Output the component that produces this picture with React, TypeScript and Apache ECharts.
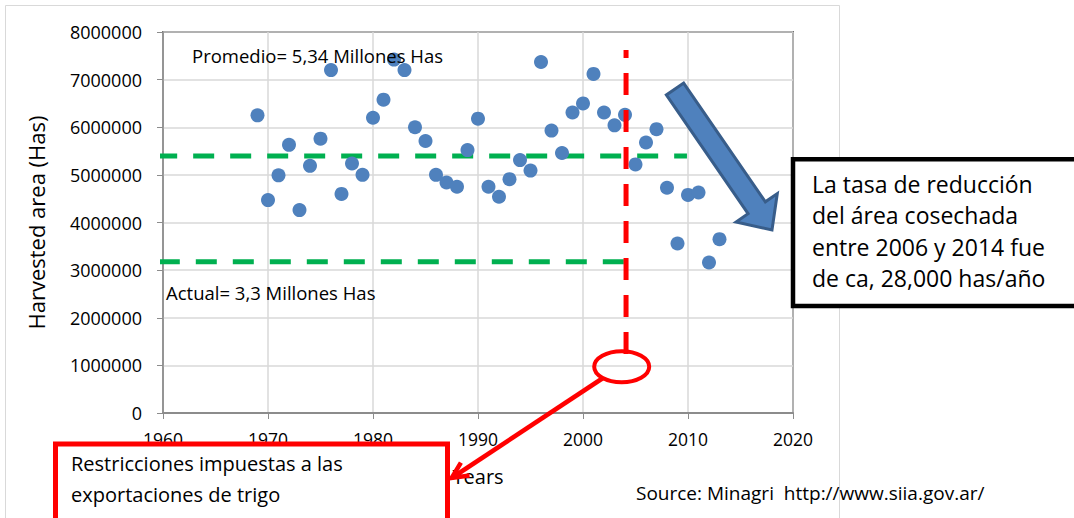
import React, { useEffect, useRef } from 'react';
import * as echarts from 'echarts';

// ---- data ----
const years = [
  1969, 1970, 1971, 1972, 1973, 1974, 1975, 1976, 1977, 1978, 1979,
  1980, 1981, 1982, 1983, 1984, 1985, 1986, 1987, 1988, 1989,
  1990, 1991, 1992, 1993, 1994, 1995, 1996, 1997, 1998, 1999,
  2000, 2001, 2002, 2003, 2004, 2005, 2006, 2007, 2008, 2009,
  2010, 2011, 2012, 2013,
];
const harvestedArea = [
  6250000, 4470000, 4990000, 5630000, 4260000, 5190000, 5760000, 7200000, 4600000, 5240000, 5000000,
  6200000, 6580000, 7420000, 7200000, 6000000, 5710000, 5000000, 4840000, 4750000, 5520000,
  6180000, 4750000, 4540000, 4910000, 5310000, 5090000, 7370000, 5930000, 5460000, 6310000,
  6500000, 7120000, 6310000, 6040000, 6260000, 5220000, 5680000, 5960000, 4730000, 3560000,
  4580000, 4630000, 3160000, 3650000,
];
const promedioX = [1959.35, 2009.9];
const promedioY = [5396000, 5396000];
const actualX = [1959.6, 2004.1];
const actualY = [3177000, 3177000];
const restrictionX = [2004.1, 2004.1];
const restrictionY = [7620000, 1180000];
const xTicks = { min: 1960, max: 2020, interval: 10 };
const yTicks = { min: 0, max: 8000000, interval: 1000000 };

const FONT = "'Open Sans', 'Noto Sans', sans-serif";

export default function App() {
  const ref = useRef<HTMLDivElement>(null);
  useEffect(() => {
    document.body.style.margin = '0';
    if (!ref.current) return;
    const chart = echarts.init(ref.current, null, { renderer: 'svg' });
    const zip = (xs: number[], ys: number[]) => xs.map((x, i) => [x, ys[i]]);

    // blue arrow geometry
    const T = [675, 89];
    const tip = [772, 230];
    const dx = tip[0] - T[0], dy = tip[1] - T[1];
    const L = Math.hypot(dx, dy);
    const d = [dx / L, dy / L];
    const p = [d[1], -d[0]];
    const h = 27, w = 10.5, W = 25;
    const B = [tip[0] - h * d[0], tip[1] - h * d[1]];
    const arrowPts = [
      [T[0] + w * p[0], T[1] + w * p[1]],
      [B[0] + w * p[0], B[1] + w * p[1]],
      [B[0] + W * p[0], B[1] + W * p[1]],
      tip,
      [B[0] - W * p[0], B[1] - W * p[1]],
      [B[0] - w * p[0], B[1] - w * p[1]],
      [T[0] - w * p[0], T[1] - w * p[1]],
    ];

    // red arrow
    const rs = [603, 378];
    const rt = [451.7, 478];
    const rl = Math.hypot(rt[0] - rs[0], rt[1] - rs[1]);
    const rd = [(rt[0] - rs[0]) / rl, (rt[1] - rs[1]) / rl];
    const wing = (ang: number) => {
      const c = Math.cos(ang), s = Math.sin(ang);
      const bx = -rd[0], by = -rd[1];
      return [rt[0] + 18 * (bx * c - by * s), rt[1] + 18 * (bx * s + by * c)];
    };

    chart.setOption({
      animation: false,
      textStyle: { fontFamily: FONT },
      grid: {
        left: 163, top: 32, width: 630, height: 381,
        show: true, borderColor: '#000', borderWidth: 1.5, backgroundColor: 'transparent',
      },
      xAxis: {
        type: 'value', ...xTicks,
        name: 'Years', nameLocation: 'middle', nameGap: 53,
        nameTextStyle: { fontSize: 20, color: '#000', fontFamily: FONT },
        axisLine: { show: true, onZero: false, lineStyle: { color: '#8c8c8c', width: 2 } },
        axisTick: { show: true, length: 6, lineStyle: { color: '#8c8c8c' } },
        axisLabel: { fontSize: 17.5, color: '#000', margin: 17, fontFamily: FONT, formatter: (v: number) => String(v) },
        splitLine: { show: true, lineStyle: { color: '#d9d9d9', width: 1.5 } },
      },
      yAxis: {
        type: 'value', ...yTicks,
        name: 'Harvested area (Has)', nameLocation: 'middle', nameGap: 116,
        nameTextStyle: { fontSize: 22, color: '#000', fontFamily: FONT },
        axisLine: { show: true, onZero: false, lineStyle: { color: '#8c8c8c', width: 1.5 } },
        axisTick: { show: true, length: 6, lineStyle: { color: '#8c8c8c' } },
        axisLabel: { fontSize: 18, color: '#000', margin: 21, fontFamily: FONT, formatter: (v: number) => String(v) },
        splitLine: { show: true, lineStyle: { color: '#d9d9d9', width: 1.5 } },
      },
      series: [
        {
          type: 'line', data: zip(promedioX, promedioY), symbol: 'none', clip: false, z: 1,
          lineStyle: { color: '#00b050', width: 5, type: [21, 16] },
        },
        {
          type: 'line', data: zip(actualX, actualY), symbol: 'none', clip: false, z: 1,
          lineStyle: { color: '#00b050', width: 5, type: [21, 16] },
        },
        {
          type: 'scatter', data: zip(years, harvestedArea), symbol: 'circle', symbolSize: 14, z: 3,
          itemStyle: { color: '#4f81bd', opacity: 1 },
        },
        {
          type: 'line', data: zip(restrictionX, restrictionY), symbol: 'none', clip: false, z: 4,
          lineStyle: { color: '#ff0000', width: 5, type: [22, 15], dashOffset: 14 },
        },
      ],
      graphic: [
        { type: 'rect', z: -10, silent: true, shape: { x: 5.5, y: 5.5, width: 834, height: 600 }, style: { fill: 'none', stroke: '#d9d9d9', lineWidth: 1 } },
        { type: 'text', z: 50, left: 192, top: 46, style: { text: 'Promedio= 5,34 Millones Has', fontSize: 18.5, fontFamily: FONT, fill: '#000' } },
        { type: 'text', z: 50, left: 166, top: 283, style: { text: 'Actual= 3,3 Millones Has', fontSize: 18.5, fontFamily: FONT, fill: '#000' } },
        { type: 'ellipse', z: 60, shape: { cx: 621.7, cy: 366.7, rx: 27.5, ry: 15.5 }, style: { fill: 'none', stroke: '#ff0000', lineWidth: 4 } },
        { type: 'line', z: 60, shape: { x1: rs[0], y1: rs[1], x2: rt[0], y2: rt[1] }, style: { stroke: '#ff0000', lineWidth: 4.5 } },
        { type: 'polyline', z: 60, shape: { points: [wing(0.45), rt, wing(-0.45)] }, style: { fill: 'none', stroke: '#ff0000', lineWidth: 4.5 } },
        { type: 'polygon', z: 60, shape: { points: arrowPts }, style: { fill: '#4f81bd', stroke: '#385d8a', lineWidth: 3 } },
        { type: 'rect', z: 70, shape: { x: 55.5, y: 444, width: 392, height: 90 }, style: { fill: '#fff', stroke: '#ff0000', lineWidth: 5 } },
        { type: 'text', z: 71, left: 71, top: 453, style: { text: 'Restricciones impuestas a las', fontSize: 20, fontFamily: FONT, fill: '#000' } },
        { type: 'text', z: 71, left: 71, top: 484, style: { text: 'exportaciones de trigo', fontSize: 20, fontFamily: FONT, fill: '#000' } },
        { type: 'rect', z: 70, shape: { x: 793, y: 159.3, width: 300, height: 146.7 }, style: { fill: '#fff', stroke: '#000', lineWidth: 4.5 } },
        { type: 'text', z: 71, left: 812, top: 172, style: { text: 'La tasa de reducción', fontSize: 23, fontFamily: FONT, fill: '#000' } },
        { type: 'text', z: 71, left: 812, top: 203.5, style: { text: 'del área cosechada', fontSize: 23, fontFamily: FONT, fill: '#000' } },
        { type: 'text', z: 71, left: 812, top: 235, style: { text: 'entre 2006 y 2014 fue', fontSize: 23, fontFamily: FONT, fill: '#000' } },
        { type: 'text', z: 71, left: 812, top: 266.5, style: { text: 'de ca, 28,000 has/año', fontSize: 23, fontFamily: FONT, fill: '#000' } },
        { type: 'text', z: 50, left: 636, top: 483, style: { text: 'Source: Minagri  http://www.siia.gov.ar/', fontSize: 19, fontFamily: FONT, fill: '#000' } },
      ],
    });
    return () => chart.dispose();
  }, []);
  return <div ref={ref} style={{ width: 1074, height: 518 }} />;
}
